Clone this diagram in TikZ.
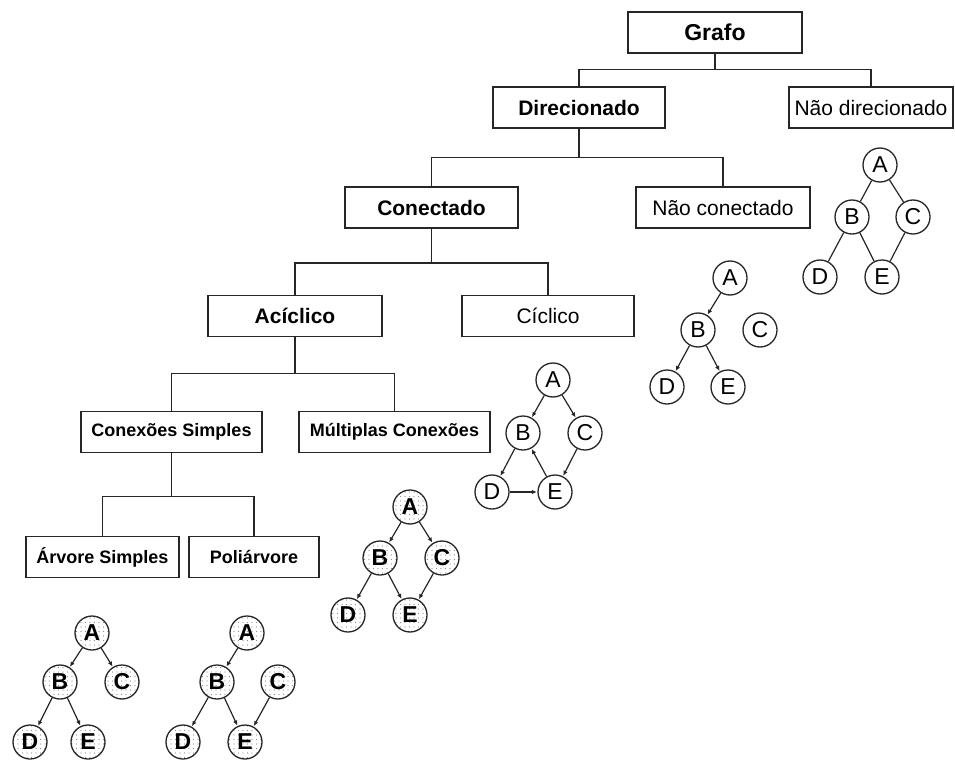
\documentclass[tikz,border=0pt]{standalone}
\usepackage{fontspec}
\setmainfont{Liberation Sans}
\usetikzlibrary{arrows.meta,patterns.meta}

% light dot texture for the shaded vertices
\tikzdeclarepattern{
  name=sparsedots,
  type=uncolored,
  bounding box={(-2.25pt,-2.25pt) and (2.25pt,2.25pt)},
  tile size={(4.5pt,4.5pt)},
  code={\fill (0pt,0pt) circle (0.55pt);}
}

\tikzset{
  box/.style={draw=black!85, line width=1.5pt, inner sep=0pt, minimum height=41pt,
              font=\fontsize{21}{21}\selectfont},
  boldbox/.style={box, font=\fontsize{21}{21}\selectfont\bfseries},
  link/.style={draw=black!85, line width=1.5pt},
  vtx/.style={circle, draw=black!85, line width=1.3pt, minimum size=34pt, inner sep=0pt,
              font=\fontsize{23}{23}\selectfont},
  dvtx/.style={vtx, pattern={sparsedots}, pattern color=black!45,
               font=\fontsize{23}{23}\selectfont\bfseries},
  edge/.style={draw=black!85, line width=1.2pt},
  arr/.style={edge, -{Latex[length=5pt,width=4.5pt]}, shorten >=0.5pt}
}

\begin{document}
\begin{tikzpicture}[x=1pt, y=-1pt]
\useasboundingbox (0,0) rectangle (955,762);

% ---- classification boxes ----
\node[boldbox, minimum width=174pt, font=\fontsize{23}{23}\selectfont\bfseries] (grafo) at (715,32.5) {Grafo};
\node[boldbox, minimum width=172pt] (dir)  at (579,107.5) {Direcionado};
\node[box,     minimum width=164pt] (ndir) at (871,107.5) {Não direcionado};
\node[boldbox, minimum width=173pt] (con)  at (431.5,207.5) {Conectado};
\node[box,     minimum width=174pt] (ncon) at (723,207.5) {Não conectado};
\node[boldbox, minimum width=174pt] (acic) at (295,316) {Acíclico};
\node[box,     minimum width=172pt] (cic)  at (548,316) {Cíclico};
\node[boldbox, minimum width=181pt, font=\fontsize{18}{18}\selectfont\bfseries] (cs) at (171.5,432) {Conexões Simples};
\node[boldbox, minimum width=191pt, font=\fontsize{18}{18}\selectfont\bfseries] (mc) at (394.5,432) {Múltiplas Conexões};
\node[boldbox, minimum width=153pt, font=\fontsize{18}{18}\selectfont\bfseries] (as) at (102.5,557) {Árvore Simples};
\node[boldbox, minimum width=130pt, font=\fontsize{18}{18}\selectfont\bfseries] (pa) at (254,557) {Poliárvore};

% ---- tree connectors ----
\draw[link] (grafo.south) -- ++(0,16) coordinate (j1);
\draw[link] (dir.north) |- (j1) -| (ndir.north);
\draw[link] (dir.south) -- ++(0,29) coordinate (j2);
\draw[link] (con.north) |- (j2) -| (ncon.north);
\draw[link] (con.south) -- ++(0,34) coordinate (j3);
\draw[link] (acic.north) |- (j3) -| (cic.north);
\draw[link] (acic.south) -- ++(0,36) coordinate (j4);
\draw[link] (cs.north) |- (j4) -| (mc.north);
\draw[link] (cs.south) -- ++(0,43) coordinate (j5);
\draw[link] (as.north) |- (j5) -| (pa.north);

% ---- undirected graph ----
\node[vtx] (uA) at (880,165) {A};
\node[vtx] (uB) at (852,217) {B};
\node[vtx] (uC) at (913,217) {C};
\node[vtx] (uD) at (820,277) {D};
\node[vtx] (uE) at (882,277) {E};
\draw[edge] (uA) -- (uB);
\draw[edge] (uA) -- (uC);
\draw[edge] (uB) -- (uD);
\draw[edge] (uB) -- (uE);
\draw[edge] (uC) -- (uE);

% ---- disconnected graph ----
\node[vtx] (nA) at (730,278) {A};
\node[vtx] (nB) at (698,330) {B};
\node[vtx] (nC) at (760,330) {C};
\node[vtx] (nD) at (667,387) {D};
\node[vtx] (nE) at (728,387) {E};
\draw[arr] (nA) -- (nB);
\draw[arr] (nB) -- (nD);
\draw[arr] (nB) -- (nE);

% ---- cyclic graph ----
\node[vtx] (cA) at (553,380) {A};
\node[vtx] (cB) at (523,433) {B};
\node[vtx] (cC) at (585,433) {C};
\node[vtx] (cD) at (492,492) {D};
\node[vtx] (cE) at (555,492) {E};
\draw[arr] (cA) -- (cB);
\draw[arr] (cA) -- (cC);
\draw[arr] (cB) -- (cD);
\draw[arr] (cD) -- (cE);
\draw[arr] (cE) -- (cB);
\draw[arr] (cC) -- (cE);

% ---- multiple connections ----
\node[dvtx] (mA) at (410,507) {A};
\node[dvtx] (mB) at (380,558) {B};
\node[dvtx] (mC) at (442,558) {C};
\node[dvtx] (mD) at (348,615) {D};
\node[dvtx] (mE) at (410,615) {E};
\draw[arr] (mA) -- (mB);
\draw[arr] (mA) -- (mC);
\draw[arr] (mB) -- (mD);
\draw[arr] (mB) -- (mE);
\draw[arr] (mC) -- (mE);

% ---- simple tree ----
\node[dvtx] (sA) at (92,633) {A};
\node[dvtx] (sB) at (60,682) {B};
\node[dvtx] (sC) at (122,682) {C};
\node[dvtx] (sD) at (30,742) {D};
\node[dvtx] (sE) at (88,742) {E};
\draw[arr] (sA) -- (sB);
\draw[arr] (sA) -- (sC);
\draw[arr] (sB) -- (sD);
\draw[arr] (sB) -- (sE);

% ---- polytree ----
\node[dvtx] (pA) at (247,633) {A};
\node[dvtx] (pB) at (217,682) {B};
\node[dvtx] (pC) at (278,682) {C};
\node[dvtx] (pD) at (183,742) {D};
\node[dvtx] (pE) at (245,742) {E};
\draw[arr] (pA) -- (pB);
\draw[arr] (pB) -- (pD);
\draw[arr] (pB) -- (pE);
\draw[arr] (pC) -- (pE);
\end{tikzpicture}
\end{document}
